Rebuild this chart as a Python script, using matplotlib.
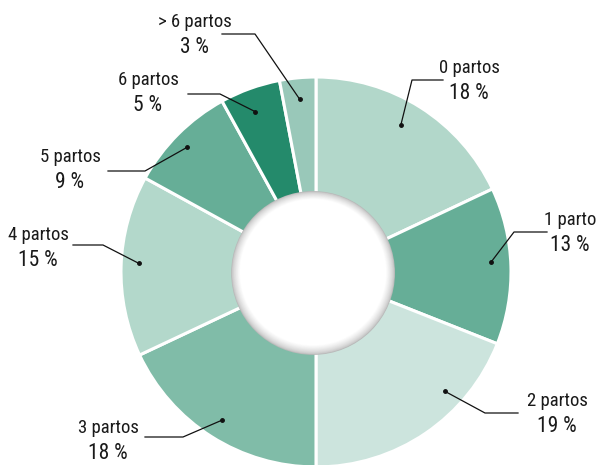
import numpy as np
import matplotlib.pyplot as plt
from matplotlib.patches import Circle

# datos
etiquetas = ['0 partos', '1 parto', '2 partos', '3 partos', '4 partos', '5 partos', '6 partos', '> 6 partos']
valores = [18, 13, 19, 18, 15, 9, 5, 3]
colores = ['#b2d7ca', '#66ae97', '#cce4dd', '#80bca8', '#b3d8cb', '#66ae97', '#248a6b', '#99c8b9']

# posicion del texto (pixeles), linea horizontal y desvio del punto (grados, radio)
texto_pos = [(469, 79), (570, 231), (557, 412), (108, 439), (38, 246), (70, 168), (148, 91), (195, 33)]
linea_h = [(443, 412, 80), (547, 514, 232), (518, 485, 413), (145, 183, 437),
           (73, 103, 245), (108, 145, 171), (188, 220, 94), (222, 255, 34)]
desvio = [(2.4, 0.87), (1.5, 0.9), (13, 0.9), (0, 0.9), (-1, 0.91), (1, 0.92), (1, 0.88), (0, 0.89)]

W, H = 596, 465
cx, cy, R = 316, 272, 195


def to_data(px, py):
    return (px - cx) / R, (cy - py) / R


fig = plt.figure(figsize=(W / 100, H / 100), dpi=100)
ax = fig.add_axes([0, 0, 1, 1])

wedges, _ = ax.pie(valores, colors=colores, startangle=90, counterclock=False, radius=1,
                   wedgeprops=dict(edgecolor='white', linewidth=2.2))
ax.set_aspect('auto')
ax.set_xlim((0 - cx) / R, (W - cx) / R)
ax.set_ylim((cy - H) / R, cy / R)
ax.axis('off')

# circulo central con degradado en el borde
ccx, ccy, rc = -0.015, -0.005, 0.42
n = 14
for k in range(n):
    t = k / (n - 1)
    g = 0.72 + 0.28 * t ** 0.6
    ax.add_patch(Circle((ccx, ccy + 0.004 * t), rc - 0.045 * t, color=(g, g, g), lw=0, zorder=3 + k * 0.01))
ax.add_patch(Circle((ccx, ccy + 0.006), rc - 0.05, color='white', lw=0, zorder=3.5))

fuente = dict(family=['Roboto Condensed', 'Roboto', 'DejaVu Sans'], color='#1a1a1a')

acum = 0
for i, v in enumerate(valores):
    mid = 90 - (acum + v / 2) * 3.6 + desvio[i][0]
    acum += v
    r = desvio[i][1]
    dx, dy = r * np.cos(np.radians(mid)), r * np.sin(np.radians(mid))
    x0, x1, yh = linea_h[i]
    a = to_data(x0, yh)
    b = to_data(x1, yh)
    ax.plot([a[0], b[0], dx], [a[1], b[1], dy], color='#111111', lw=0.9, zorder=5)
    ax.plot(dx, dy, 'o', color='#111111', ms=2.5, zorder=5)
    tx, ty = to_data(*texto_pos[i])
    ax.text(tx, ty + 0.012, etiquetas[i], ha='center', va='bottom', fontsize=13.5, **fuente)
    ax.text(tx, ty - 0.018, f'{v} %', ha='center', va='top', fontsize=15.5, **fuente)

fig.savefig('out.png', dpi=100)
